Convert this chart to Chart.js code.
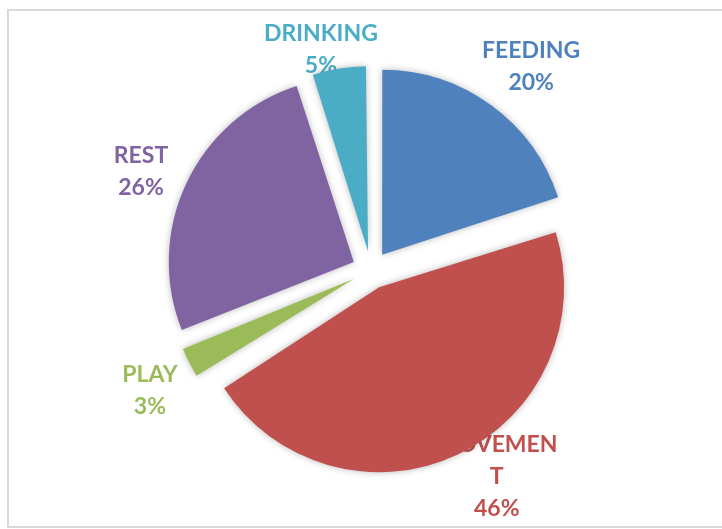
<!DOCTYPE html>
<html>
<head>
<meta charset="utf-8">
<script src="https://cdn.jsdelivr.net/npm/chart.js@4.4.1/dist/chart.umd.min.js"></script>
<style>
  html, body { margin: 0; padding: 0; background: #fff; overflow: hidden; }
  #wrap { position: relative; width: 722px; height: 529px; }
  #frame {
    position: absolute; left: 7px; top: 9px; width: 760px; height: 515px;
    border: 2px solid #d9d9d9;
  }
  #chartBox { position: absolute; left: 0; top: 0; width: 722px; height: 529px; }
</style>
</head>
<body>
<div id="wrap">
  <div id="frame"></div>
  <div id="chartBox"><canvas id="activityPie"></canvas></div>
</div>
<script>
const activities = ['FEEDING', 'MOVEMENT', 'PLAY', 'REST', 'DRINKING'];
const shares = [20, 46, 3, 26, 5];
const sliceColors = ['#4f81bd', '#c0504d', '#9bbb59', '#8064a2', '#4bacc6'];

// label text lines (Excel wrapped the long one)
const labelLines = [
    ['FEEDING', '20%'],
    ['MOVEMEN', 'T', '46%'],
    ['PLAY', '3%'],
    ['REST', '26%'],
    ['DRINKING', '5%']
];
// distance past the rim and small angle tweak (deg) for each label
const labelGap = [74, 57, 67, 65, 41];
const labelTurn = [2.2, -6.1, -1.7, -2.1, -3.8];

const SLICE_OFFSET = 76;   // arc pushes out by offset / 4

// Chart.js also grows narrow/wide slices when they are offset;
// take that back out so every slice keeps the same radius
const evenRadius = {
    id: 'evenRadius',
    afterDatasetUpdate(chart, args) {
        const meta = chart.getDatasetMeta(args.index);
        const push = SLICE_OFFSET / 4;
        meta.data.forEach(arc => {
            const fix = 1 - Math.sin(Math.min(Math.PI, arc.circumference || 0));
            arc.outerRadius -= push * fix;
        });
    }
};

// labels go under the slices, so the big one can cover part of its text
const outsideLabels = {
    id: 'outsideLabels',
    beforeDatasetsDraw(chart) {
        const ctx = chart.ctx;
        const meta = chart.getDatasetMeta(0);
        const r = chart.options.radius;
        ctx.save();
        ctx.font = 'bold 23px Lato';
        ctx.textAlign = 'center';
        ctx.textBaseline = 'middle';
        meta.data.forEach((arc, i) => {
            const p = arc.getProps(['x', 'y', 'startAngle', 'endAngle'], true);
            const mid = (p.startAngle + p.endAngle) / 2 + labelTurn[i] * Math.PI / 180;
            const d = r + labelGap[i];
            const cx = p.x + Math.cos(mid) * d;
            const cy = p.y + Math.sin(mid) * d;
            const lines = labelLines[i];
            const lh = 32;
            ctx.fillStyle = sliceColors[i];
            lines.forEach((t, k) => {
                ctx.fillText(t, cx, cy + (k - (lines.length - 1) / 2) * lh);
            });
        });
        ctx.restore();
    }
};

// soft grey shadow behind the slices
const sliceShadow = {
    id: 'sliceShadow',
    beforeDatasetDraw(chart) {
        const ctx = chart.ctx;
        ctx.save();
        ctx.shadowColor = 'rgba(0, 0, 0, 0.28)';
        ctx.shadowBlur = 7;
        ctx.shadowOffsetX = 0;
        ctx.shadowOffsetY = 0;
    },
    afterDatasetDraw(chart) {
        chart.ctx.restore();
    }
};

const ctxPie = document.getElementById('activityPie');
const activityPie = new Chart(ctxPie, {
    type: 'pie',
    data: {
        labels: activities,
        datasets: [{
            data: shares,
            backgroundColor: sliceColors,
            borderWidth: 0,
            offset: SLICE_OFFSET
        }]
    },
    options: {
        responsive: true,
        maintainAspectRatio: false,
        animation: false,
        radius: 185,
        layout: {
            padding: { top: 20, bottom: 9, left: 21, right: 1 }
        },
        plugins: {
            legend: { display: false },
            tooltip: { enabled: false }
        }
    },
    plugins: [evenRadius, outsideLabels, sliceShadow]
});
</script>
</body>
</html>
